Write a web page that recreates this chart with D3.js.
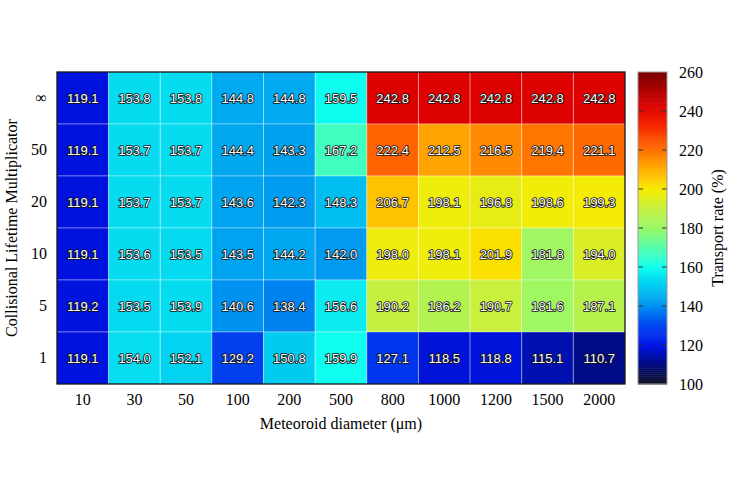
<!DOCTYPE html>
<html lang="en">
<head>
  <meta charset="utf-8">
  <title>Transport rate heatmap</title>
  <style>
    body { margin: 0; background: #fff; }
    .tick text { font: 16px "Liberation Serif", "DejaVu Serif", serif; fill: #000; }
    .axis-title { font: 16px "Liberation Serif", "DejaVu Serif", serif; fill: #000; }
    .cell-label { font: 13px "Liberation Sans", Arial, sans-serif; fill: #fff;
                  stroke: #111; stroke-width: 1.7px; paint-order: stroke; stroke-linejoin: round; }
  </style>
</head>
<body>
<script src="https://cdn.jsdelivr.net/npm/d3@7"></script>
<script>
  //----------------------------------------------------------------------------
  // data
  var diameters   = ["10", "30", "50", "100", "200", "500", "800", "1000", "1200", "1500", "2000"];
  var multipliers = ["\u221e", "50", "20", "10", "5", "1"];

  var rowInf = [119.1, 153.8, 153.8, 144.8, 144.8, 159.5, 242.8, 242.8, 242.8, 242.8, 242.8];
  var row50  = [119.1, 153.7, 153.7, 144.4, 143.3, 167.2, 222.4, 212.5, 216.5, 219.4, 221.1];
  var row20  = [119.1, 153.7, 153.7, 143.6, 142.3, 148.3, 206.7, 198.1, 196.8, 198.6, 199.3];
  var row10  = [119.1, 153.6, 153.5, 143.5, 144.2, 142.0, 198.0, 198.1, 201.9, 181.8, 194.0];
  var row5   = [119.2, 153.5, 153.9, 140.6, 138.4, 156.6, 190.2, 186.2, 190.7, 181.6, 187.1];
  var row1   = [119.1, 154.0, 152.1, 129.2, 150.8, 159.9, 127.1, 118.5, 118.8, 115.1, 110.7];
  var rows = [rowInf, row50, row20, row10, row5, row1];

  var colorTicks = [100, 120, 140, 160, 180, 200, 220, 240, 260];

  var cells = [];
  rows.forEach(function(r, i) {
    r.forEach(function(v, j) {
      cells.push({ row: multipliers[i], col: diameters[j], value: v });
    });
  });

  //----------------------------------------------------------------------------
  var width = 747, height = 489;
  var plot = { left: 57, top: 72, right: 625, bottom: 384 };
  var bar  = { left: 638, right: 667 };

  var svg = d3.select("body").append("svg")
      .attr("width", width)
      .attr("height", height);

  var x = d3.scaleBand().domain(diameters).range([plot.left, plot.right]);
  var y = d3.scaleBand().domain(multipliers).range([plot.top, plot.bottom]);

  // jet-like palette with dark ends
  var color = d3.scaleLinear()
      .domain([100, 105, 110, 115, 120, 130, 140, 150, 155, 160, 167, 180, 190, 200, 207, 213, 222, 232, 243, 260])
      .range(["#0c0f1c", "#0a0f50", "#000a80", "#0010b0", "#0014e8", "#0044f0", "#008ff0", "#00c8f0",
              "#08e2f0", "#10fff0", "#40ffc0", "#98f868", "#c4f040", "#f8ec00", "#ffc000", "#ffa000",
              "#ff6400", "#f82a00", "#dc0000", "#780000"])
      .clamp(true);

  // cells
  svg.append("g").selectAll("rect")
    .data(cells)
    .enter().append("rect")
      .attr("x", function(d) { return x(d.col); })
      .attr("y", function(d) { return y(d.row); })
      .attr("width", x.bandwidth())
      .attr("height", y.bandwidth())
      .attr("fill", function(d) { return color(d.value); })
      .attr("stroke", "rgba(255,255,255,0.35)")
      .attr("stroke-width", 1);

  svg.append("g").selectAll("text")
    .data(cells)
    .enter().append("text")
      .attr("class", "cell-label")
      .attr("x", function(d) { return x(d.col) + x.bandwidth() / 2; })
      .attr("y", function(d) { return y(d.row) + y.bandwidth() / 2; })
      .attr("dy", ".36em")
      .attr("text-anchor", "middle")
      .text(function(d) { return d.value.toFixed(1); });

  svg.append("rect")
      .attr("x", plot.left).attr("y", plot.top)
      .attr("width", plot.right - plot.left).attr("height", plot.bottom - plot.top)
      .attr("fill", "none").attr("stroke", "#000").attr("stroke-width", 1.2);

  // axes
  var xAxis = svg.append("g")
      .attr("transform", "translate(0," + plot.bottom + ")")
      .call(d3.axisBottom(x).tickSize(0).tickPadding(10));
  xAxis.select(".domain").remove();

  var yAxis = svg.append("g")
      .attr("transform", "translate(" + plot.left + ",0)")
      .call(d3.axisLeft(y).tickSize(0).tickPadding(10));
  yAxis.select(".domain").remove();

  svg.append("text")
      .attr("class", "axis-title")
      .attr("x", (plot.left + plot.right) / 2)
      .attr("y", 429)
      .attr("text-anchor", "middle")
      .text("Meteoroid diameter (\u03bcm)");

  svg.append("text")
      .attr("class", "axis-title")
      .attr("transform", "translate(17," + (plot.top + plot.bottom) / 2 + ") rotate(-90)")
      .attr("text-anchor", "middle")
      .text("Collisional Lifetime Multiplicator");

  // colour bar
  var c = d3.scaleLinear().domain([100, 260]).range([plot.bottom, plot.top]);
  var steps = d3.range(100, 260, 1);

  svg.append("g").selectAll("rect")
    .data(steps)
    .enter().append("rect")
      .attr("x", bar.left)
      .attr("y", function(d) { return c(d + 1); })
      .attr("width", bar.right - bar.left)
      .attr("height", function(d) { return c(d) - c(d + 1) + 0.5; })
      .attr("fill", function(d) { return color(d + 0.5); });

  svg.append("g").selectAll("line")
    .data(colorTicks.slice(1, -1))
    .enter().append("g")
      .each(function(d) {
        var g = d3.select(this);
        g.append("line").attr("x1", bar.left).attr("x2", bar.left + 5)
          .attr("y1", c(d)).attr("y2", c(d));
        g.append("line").attr("x1", bar.right - 5).attr("x2", bar.right)
          .attr("y1", c(d)).attr("y2", c(d));
      })
      .attr("stroke", "#333").attr("stroke-width", 1);

  svg.append("rect")
      .attr("x", bar.left).attr("y", plot.top)
      .attr("width", bar.right - bar.left).attr("height", plot.bottom - plot.top)
      .attr("fill", "none").attr("stroke", "#999").attr("stroke-width", 1);

  var cAxis = svg.append("g")
      .attr("transform", "translate(" + bar.right + ",0)")
      .call(d3.axisRight(c).tickValues(colorTicks).tickSize(0).tickPadding(12));
  cAxis.select(".domain").remove();

  svg.append("text")
      .attr("class", "axis-title")
      .attr("transform", "translate(723," + (plot.top + plot.bottom) / 2 + ") rotate(-90)")
      .attr("text-anchor", "middle")
      .text("Transport rate (%)");
  //----------------------------------------------------------------------------
</script>
</body>
</html>
